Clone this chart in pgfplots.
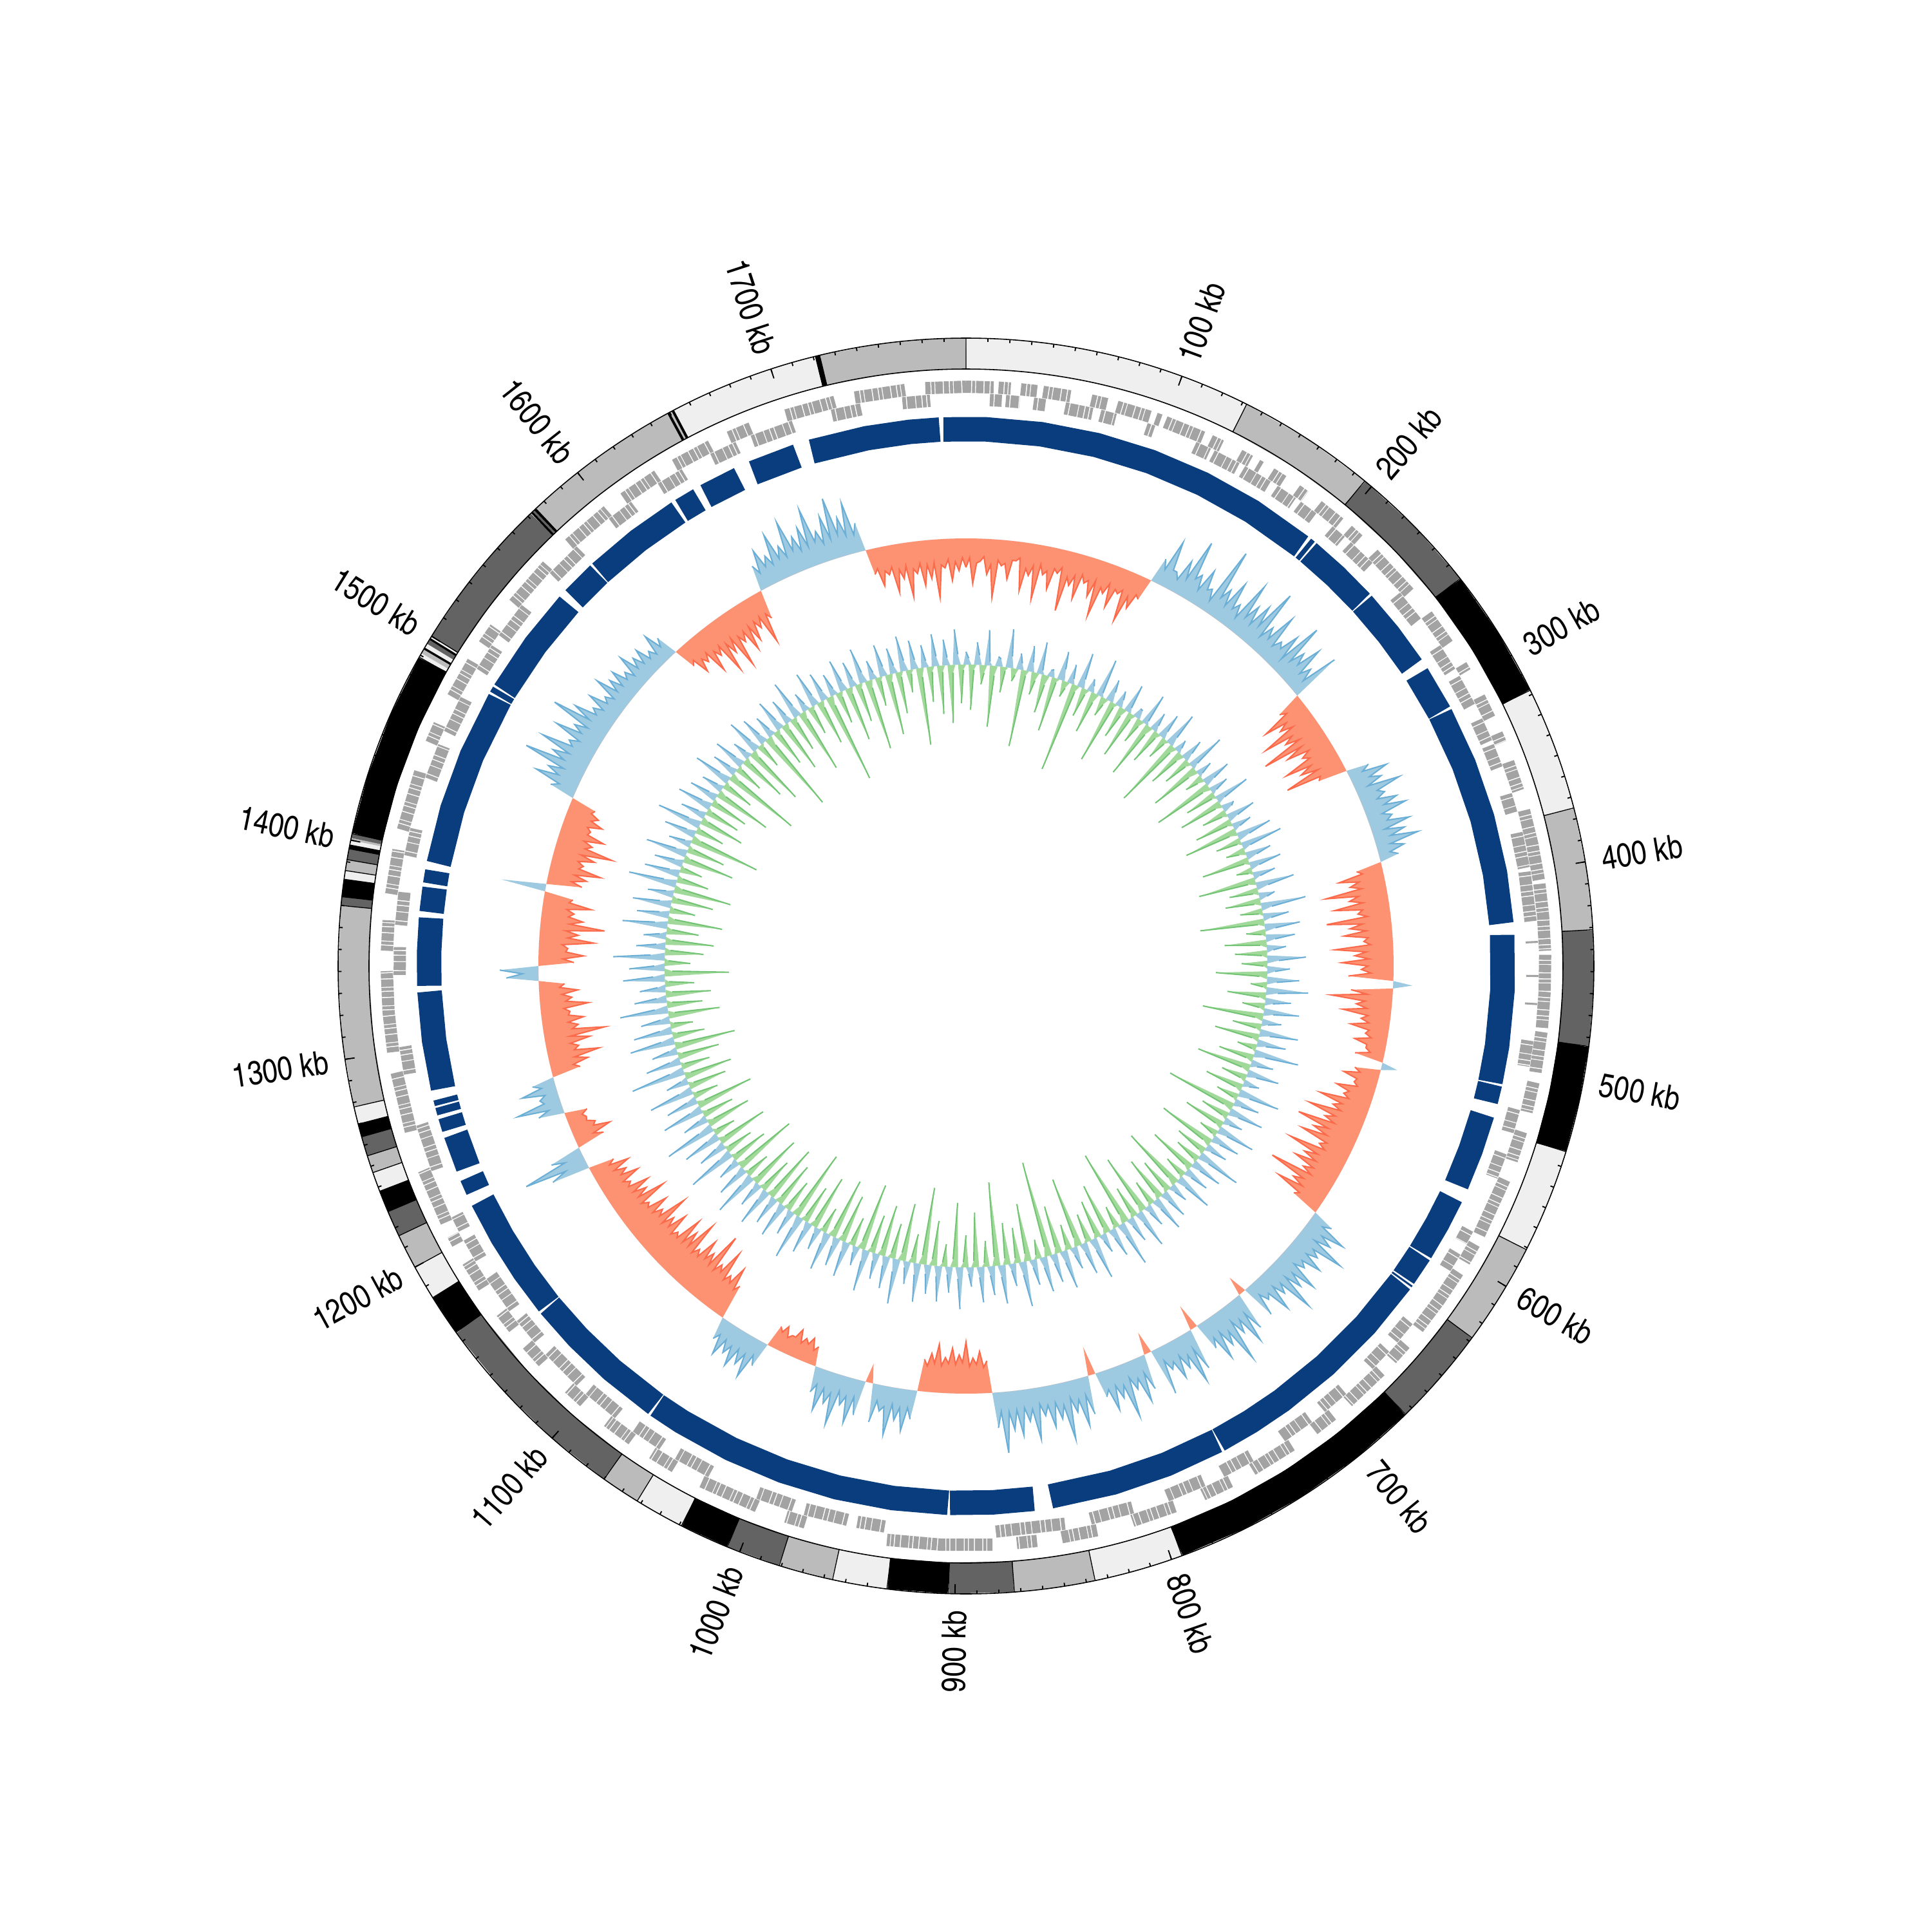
\documentclass[border=0pt]{standalone}
\usepackage{pgfplots}
\pgfplotsset{compat=1.18}
\usepackage{pgfplotstable}
\usepgfplotslibrary{polar,fillbetween}
\usepackage{fontspec}
\newfontfamily\labfont{texgyreheroscn-regular.otf}
\definecolor{ideoW}{HTML}{EFEFEF}
\definecolor{ideoL}{HTML}{BBBBBB}
\definecolor{ideoD}{HTML}{636363}
\definecolor{ideoK}{HTML}{000000}
\definecolor{tile}{HTML}{A3A3A3}
\definecolor{dblue}{HTML}{0A3D7D}
\definecolor{bfill}{HTML}{9ECAE1}
\definecolor{bline}{HTML}{6BAED6}
\definecolor{rfill}{HTML}{FC9272}
\definecolor{rline}{HTML}{FB6A4A}
\definecolor{gfill}{HTML}{A1D99B}
\definecolor{gline}{HTML}{74C476}
\tikzset{lab/.style={font=\labfont\fontsize{9.8}{11}\selectfont, inner sep=0pt}}

% ideogram segments (kb), one table per shade
\pgfplotstableread[row sep=\\]{p\\ 0\\30\\60\\90\\120\\132\\nan\\318\\345\\375\\nan\\533\\557\\581\\nan\\795\\815\\836\\nan\\931\\956\\nan\\1029\\1052\\nan\\1184\\1200\\nan\\1238\\1247\\nan\\1270\\1278\\nan\\1382\\1386\\nan\\1398\\1400\\nan\\1489\\1491\\nan\\1494\\1496\\nan\\1499\\1500\\nan\\1652\\1680\\1700\\1721\\}\ideoWt
\pgfplotstableread[row sep=\\]{p\\ 132\\164\\196\\nan\\375\\403\\431\\nan\\581\\605\\628\\nan\\836\\855\\873\\nan\\956\\981\\nan\\1052\\1070\\nan\\1200\\1216\\nan\\1247\\1255\\nan\\1278\\1308\\1339\\1370\\nan\\1386\\1391\\nan\\1400\\1401\\nan\\1491\\1493\\nan\\1575\\1600\\1625\\1649\\nan\\1650\\1651\\nan\\1723\\1750\\1775\\1790\\}\ideoLt
\pgfplotstableread[row sep=\\]{p\\ 196\\227\\258\\nan\\431\\458\\484\\nan\\628\\651\\674\\nan\\873\\903\\nan\\981\\1006\\nan\\1070\\1100\\1130\\1165\\nan\\1216\\1228\\nan\\1255\\1264\\nan\\1370\\1374\\nan\\1391\\1396\\nan\\1401\\1403\\nan\\1496\\1498\\nan\\1500\\1525\\1550\\1572\\nan\\1573\\1574\\}\ideoDt
\pgfplotstableread[row sep=\\]{p\\ 258\\288\\318\\nan\\484\\509\\533\\nan\\674\\704\\734\\764\\795\\nan\\903\\931\\nan\\1006\\1029\\nan\\1165\\1184\\nan\\1228\\1238\\nan\\1264\\1270\\nan\\1374\\1382\\nan\\1396\\1398\\nan\\1403\\1430\\1460\\1489\\nan\\1493\\1494\\nan\\1498\\1499\\nan\\1572\\1573\\nan\\1574\\1575\\nan\\1649\\1650\\nan\\1651\\1652\\nan\\1721\\1723\\}\ideoKt
% ideogram band borders
\pgfplotstableread[row sep=\\]{p r\\ 0 927\\0 975\\nan nan\\132 927\\132 975\\nan nan\\196 927\\196 975\\nan nan\\258 927\\258 975\\nan nan\\318 927\\318 975\\nan nan\\375 927\\375 975\\nan nan\\431 927\\431 975\\nan nan\\484 927\\484 975\\nan nan\\533 927\\533 975\\nan nan\\581 927\\581 975\\nan nan\\628 927\\628 975\\nan nan\\674 927\\674 975\\nan nan\\795 927\\795 975\\nan nan\\836 927\\836 975\\nan nan\\873 927\\873 975\\nan nan\\903 927\\903 975\\nan nan\\931 927\\931 975\\nan nan\\956 927\\956 975\\nan nan\\981 927\\981 975\\nan nan\\1006 927\\1006 975\\nan nan\\1029 927\\1029 975\\nan nan\\1052 927\\1052 975\\nan nan\\1070 927\\1070 975\\nan nan\\1165 927\\1165 975\\nan nan\\1184 927\\1184 975\\nan nan\\1200 927\\1200 975\\nan nan\\1216 927\\1216 975\\nan nan\\1228 927\\1228 975\\nan nan\\1238 927\\1238 975\\nan nan\\1247 927\\1247 975\\nan nan\\1255 927\\1255 975\\nan nan\\1264 927\\1264 975\\nan nan\\1270 927\\1270 975\\nan nan\\1278 927\\1278 975\\nan nan\\1370 927\\1370 975\\nan nan\\1374 927\\1374 975\\nan nan\\1382 927\\1382 975\\nan nan\\1386 927\\1386 975\\nan nan\\1391 927\\1391 975\\nan nan\\1396 927\\1396 975\\nan nan\\1403 927\\1403 975\\nan nan\\1489 927\\1489 975\\nan nan\\1500 927\\1500 975\\nan nan\\1575 927\\1575 975\\nan nan\\1649 927\\1649 975\\nan nan\\1652 927\\1652 975\\nan nan\\1721 927\\1721 975\\nan nan\\1723 927\\1723 975\\}\ideoB
% gene tiles, outer (forward) and inner (reverse) lane
\pgfplotstableread[row sep=\\]{p\\ 0\\14\\nan\\16\\22\\nan\\27\\35\\nan\\38\\52\\nan\\62\\70\\nan\\75\\92\\nan\\95\\98\\nan\\100\\120\\nan\\124\\130\\nan\\140\\146\\nan\\150\\152\\nan\\158\\165\\nan\\173\\178\\nan\\186\\200\\nan\\205\\212\\nan\\222\\248\\nan\\262\\280\\nan\\292\\296\\nan\\310\\322\\nan\\330\\335\\nan\\345\\360\\nan\\370\\387\\405\\nan\\407\\423\\440\\nan\\442\\460\\478\\nan\\480\\500\\nan\\505\\520\\nan\\530\\545\\nan\\555\\585\\nan\\590\\600\\nan\\606\\623\\640\\nan\\650\\660\\nan\\668\\690\\nan\\700\\712\\nan\\725\\748\\nan\\760\\775\\nan\\790\\812\\nan\\830\\848\\nan\\860\\870\\nan\\882\\907\\934\\nan\\975\\985\\nan\\1000\\1030\\nan\\1045\\1058\\nan\\1070\\1085\\nan\\1100\\1110\\nan\\1128\\1140\\nan\\1150\\1160\\nan\\1175\\1190\\nan\\1200\\1205\\nan\\1212\\1240\\nan\\1260\\1290\\nan\\1300\\1320\\1340\\nan\\1350\\1365\\nan\\1378\\1400\\nan\\1410\\1440\\nan\\1455\\1465\\nan\\1480\\1500\\nan\\1510\\1520\\nan\\1535\\1560\\nan\\1575\\1600\\nan\\1610\\1630\\nan\\1640\\1660\\nan\\1670\\1682\\nan\\1700\\1725\\nan\\1735\\1760\\nan\\1770\\1790\\}\tileO
\pgfplotstableread[row sep=\\]{p\\ 12\\18\\nan\\20\\27\\nan\\34\\40\\nan\\50\\64\\nan\\68\\76\\nan\\92\\96\\nan\\118\\126\\nan\\128\\142\\nan\\145\\160\\nan\\164\\175\\nan\\178\\188\\nan\\198\\206\\nan\\210\\225\\nan\\245\\262\\nan\\278\\292\\nan\\296\\312\\nan\\320\\332\\nan\\334\\346\\nan\\360\\370\\nan\\380\\398\\nan\\400\\425\\nan\\435\\436\\nan\\452\\453\\nan\\466\\467\\nan\\485\\498\\nan\\520\\532\\nan\\543\\556\\nan\\585\\592\\nan\\598\\608\\nan\\640\\652\\nan\\658\\670\\nan\\688\\702\\nan\\710\\727\\nan\\745\\762\\nan\\772\\792\\nan\\810\\832\\nan\\845\\880\\nan\\936\\950\\nan\\955\\977\\nan\\983\\1002\\nan\\1028\\1047\\nan\\1056\\1072\\nan\\1083\\1102\\nan\\1108\\1130\\nan\\1138\\1152\\nan\\1158\\1178\\nan\\1188\\1200\\nan\\1205\\1213\\nan\\1238\\1262\\nan\\1288\\1302\\nan\\1338\\1352\\nan\\1363\\1380\\nan\\1398\\1412\\nan\\1438\\1456\\nan\\1463\\1482\\nan\\1498\\1512\\nan\\1518\\1537\\nan\\1558\\1577\\nan\\1598\\1612\\nan\\1628\\1642\\nan\\1658\\1672\\nan\\1680\\1702\\nan\\1722\\1737\\nan\\1758\\1772\\}\tileI
% dark blue ring pieces
\pgfplotstableread[row sep=\\]{p\\ -12\\10\\40\\70\\100\\130\\160\\192\\nan\\193.5\\196\\nan\\197\\216\\235.5\\nan\\236.5\\258\\279\\nan\\284\\307.5\\nan\\308.5\\338\\368\\398\\425\\nan\\431\\460\\490\\509.5\\nan\\510.5\\520\\nan\\527\\547\\567\\nan\\574\\590\\607.5\\nan\\608.5\\623.5\\nan\\624.5\\625.5\\nan\\626.5\\656\\686\\716\\736\\755.5\\nan\\756.5\\786\\816\\850\\nan\\859\\881\\903.5\\nan\\904.5\\934\\964\\994\\1024\\1054\\1069.5\\nan\\1070.5\\1100\\1125\\1147.5\\nan\\1148.5\\1170\\1192\\1214\\nan\\1220\\1228\\nan\\1233\\1252\\nan\\1255\\1262\\nan\\1264\\1268\\nan\\1269\\1272\\nan\\1277\\1303\\1329\\nan\\1332\\1350\\1368\\nan\\1371\\1384\\nan\\1386\\1393\\nan\\1397\\1427\\1457\\1490.5\\nan\\1491.5\\1494.5\\nan\\1495.5\\1525\\1553\\nan\\1557\\1575.5\\nan\\1576.5\\1603\\1629\\nan\\1631\\1642\\nan\\1646\\1666\\nan\\1674\\1699\\nan\\1707\\1737\\1760\\1776\\}\blueRing
% outer histogram, one value every 2.5 kb (0..1790 kb), baseline radius 664
\pgfplotstableread[row sep=\\]{v\\
-45\\-30\\-70\\-38\\-35\\-28\\-55\\-40\\-90\\-32\\-40\\-36\\-60\\-30\\-30\\-25\\-75\\-40\\-50\\-34\\-85\\-30\\-45\\-38\\-65\\-32\\-38\\-28\\-95\\-40\\-52\\-35\\-70\\-30\\-42\\-36\\-60\\-33\\-88\\-40\\-48\\-30\\-66\\-35\\-40\\-32\\-80\\-38\\-55\\-30\\-35\\0\\
40\\25\\75\\30\\30\\20\\55\\28\\95\\35\\45\\22\\60\\30\\35\\18\\110\\32\\50\\25\\70\\28\\40\\20\\85\\30\\55\\26\\65\\33\\100\\22\\45\\28\\75\\24\\38\\30\\60\\20\\90\\27\\50\\32\\70\\25\\42\\22\\80\\0\\
-40\\-30\\-75\\-40\\-55\\-35\\-90\\-45\\-60\\-38\\-105\\-42\\-70\\-35\\-50\\-40\\-85\\-45\\-65\\-38\\-95\\-40\\-45\\0\\
35\\22\\60\\28\\45\\20\\70\\30\\40\\25\\55\\32\\65\\24\\38\\28\\62\\20\\50\\26\\68\\22\\42\\18\\30\\0\\
-40\\-32\\-70\\-40\\-55\\-38\\-95\\-45\\-60\\-40\\-85\\-42\\-50\\-36\\-100\\-45\\-65\\-40\\-75\\-38\\
-45\\-35\\-90\\-42\\-60\\-38\\-80\\-40\\-50\\-35\\-70\\0\\30\\0\\-65\\-40\\-95\\-42\\-55\\-38\\
-75\\-35\\-45\\-32\\-60\\-30\\-35\\-25\\-50\\-30\\-30\\-22\\-45\\0\\25\\0\\-40\\-30\\-55\\-32\\
-35\\-28\\-60\\-38\\-45\\-35\\-80\\-42\\-55\\-40\\-90\\-45\\-60\\-42\\-100\\-48\\-70\\-45\\-85\\-40\\
-50\\-38\\-95\\-45\\-65\\-42\\-75\\-40\\-55\\-38\\-105\\-45\\-60\\-40\\-80\\-38\\-45\\0\\
35\\22\\65\\30\\50\\25\\80\\32\\45\\28\\60\\30\\40\\24\\70\\32\\55\\28\\85\\30\\
45\\25\\65\\28\\35\\20\\55\\0\\-30\\0\\60\\28\\75\\30\\50\\25\\90\\35\\55\\28\\
70\\30\\45\\0\\-40\\0\\65\\28\\80\\32\\50\\26\\60\\30\\40\\22\\75\\0\\-35\\0\\
55\\26\\70\\30\\45\\24\\85\\32\\50\\28\\65\\30\\40\\0\\-45\\0\\60\\28\\75\\32\\
50\\26\\90\\35\\55\\28\\65\\30\\45\\26\\80\\32\\50\\28\\70\\30\\60\\32\\95\\30\\55\\0\\
-50\\-40\\-65\\-45\\-55\\-42\\-80\\-48\\-60\\-45\\-70\\-46\\-55\\-42\\-75\\-45\\-60\\-40\\-50\\0\\
45\\28\\65\\30\\50\\26\\75\\32\\40\\25\\60\\0\\-30\\0\\55\\28\\70\\30\\45\\25\\80\\32\\50\\28\\65\\26\\40\\0\\
-30\\-22\\-40\\-28\\-35\\-25\\-45\\-30\\-30\\-24\\-40\\-28\\-35\\0\\
40\\25\\65\\30\\50\\28\\60\\30\\45\\26\\55\\24\\35\\0\\
-55\\-45\\-80\\-50\\-60\\-48\\-95\\-55\\-65\\-50\\-110\\-52\\-70\\-55\\-85\\-50\\-60\\-48\\-100\\-52\\
-75\\-50\\-90\\-48\\-55\\-45\\-80\\-50\\-65\\-46\\-95\\-50\\-60\\-45\\-75\\-44\\-50\\-40\\-85\\-42\\
-60\\-40\\-70\\-38\\-45\\-35\\-65\\-38\\-50\\-32\\-60\\-30\\-40\\0\\
60\\35\\100\\30\\50\\0\\-45\\-30\\-60\\-35\\-40\\-28\\-30\\-25\\-35\\0\\40\\22\\70\\25\\30\\20\\55\\22\\35\\0\\
-45\\-35\\-60\\-40\\-80\\-42\\-50\\-38\\-70\\-40\\-95\\-45\\-55\\-40\\-65\\-42\\-45\\-36\\-75\\-40\\
-50\\-35\\-60\\-32\\-40\\0\\50\\25\\60\\0\\-55\\-38\\-70\\-42\\-45\\-36\\-85\\-44\\-60\\-40\\
-100\\-45\\-65\\-42\\-50\\-38\\-75\\-40\\-45\\0\\70\\0\\-55\\-38\\-60\\-40\\-80\\-44\\-50\\-40\\
-65\\-42\\-90\\-45\\-55\\-40\\-70\\-42\\-45\\-38\\-60\\-40\\-50\\-36\\-40\\0\\
40\\28\\70\\35\\55\\32\\100\\38\\60\\35\\85\\36\\45\\30\\75\\34\\50\\30\\95\\35\\
65\\30\\40\\25\\55\\26\\35\\22\\60\\25\\45\\24\\50\\25\\35\\20\\55\\24\\40\\22\\
45\\20\\30\\18\\50\\22\\35\\0\\
-35\\-28\\-55\\-35\\-45\\-32\\-70\\-38\\-50\\-36\\-85\\-40\\-60\\-38\\-90\\-42\\-55\\-40\\-75\\-38\\-65\\-36\\-50\\-34\\-80\\-35\\-45\\0\\
40\\25\\60\\30\\45\\28\\75\\32\\50\\30\\85\\35\\55\\30\\65\\32\\90\\35\\50\\28\\70\\32\\95\\35\\60\\30\\80\\28\\45\\0\\
-40\\-32\\-60\\-38\\-45\\-34\\-75\\-40\\-55\\-36\\-85\\-42\\-50\\-35\\-70\\-38\\-60\\-36\\-90\\-40\\-45\\-32\\-65\\-36\\-50\\-30\\-45\\}\outerdata
% inner track, one value every 2.5 kb, baseline radius 468
\pgfplotstableread[row sep=\\]{v\\
20\\10\\-70\\-8\\35\\15\\-30\\-12\\55\\6\\-95\\-15\\15\\12\\-40\\-6\\60\\18\\-20\\-10\\25\\10\\-120\\-8\\40\\15\\-35\\-12\\50\\6\\-60\\-15\\10\\12\\-85\\-6\\45\\18\\-25\\-10\\
30\\8\\-140\\-10\\55\\14\\-45\\-8\\20\\10\\-65\\-14\\60\\6\\-30\\-10\\35\\16\\-100\\-6\\25\\12\\-50\\-12\\45\\8\\-75\\-8\\15\\14\\-40\\-10\\50\\6\\-90\\-14\\30\\10\\-55\\-8\\
40\\12\\-35\\-6\\55\\15\\-110\\-10\\20\\8\\-60\\-12\\35\\14\\-45\\-8\\60\\10\\-80\\-15\\25\\6\\-30\\-10\\45\\16\\-95\\-12\\30\\8\\-50\\-6\\55\\12\\-70\\-10\\20\\14\\-40\\-8\\
45\\15\\-60\\-8\\30\\10\\-85\\-12\\55\\18\\-40\\-6\\65\\12\\-30\\-10\\40\\16\\-75\\-8\\50\\14\\-25\\-6\\35\\10\\-90\\-12\\60\\18\\-45\\-8\\25\\12\\-55\\-10\\70\\16\\-35\\-6\\
40\\12\\-100\\-10\\55\\16\\-30\\-6\\45\\14\\-65\\-10\\30\\10\\-50\\-8\\60\\18\\-40\\-6\\35\\12\\-80\\-12\\50\\15\\-25\\-6\\65\\18\\-60\\-10\\40\\12\\-35\\-8\\55\\15\\-95\\-12\\
30\\10\\-45\\-8\\60\\16\\-70\\-10\\45\\14\\-30\\-6\\70\\18\\-55\\-10\\35\\10\\-85\\-12\\50\\15\\-40\\-8\\25\\10\\-60\\-10\\65\\18\\-35\\-6\\40\\12\\-110\\-14\\55\\16\\-45\\-8\\
30\\10\\-65\\-10\\60\\16\\-30\\-6\\45\\14\\-90\\-12\\35\\10\\-50\\-8\\70\\18\\-40\\-6\\50\\15\\-75\\-10\\40\\12\\-35\\-6\\60\\16\\-100\\-14\\30\\10\\-55\\-8\\45\\14\\-70\\-10\\
55\\16\\-40\\-6\\35\\10\\-95\\-12\\60\\18\\-50\\-8\\40\\12\\-120\\-15\\70\\20\\-35\\-6\\45\\14\\-80\\-10\\30\\10\\-60\\-8\\65\\18\\-45\\-6\\50\\15\\-110\\-14\\35\\12\\-40\\-8\\
60\\18\\-75\\-10\\45\\14\\-150\\-15\\55\\16\\-30\\-6\\40\\12\\-90\\-12\\70\\20\\-55\\-8\\35\\10\\-65\\-10\\60\\18\\-130\\-14\\45\\14\\-40\\-6\\55\\16\\-85\\-10\\30\\10\\-50\\-8\\
65\\18\\-100\\-12\\40\\12\\-35\\-6\\55\\16\\-70\\-10\\45\\14\\-120\\-14\\60\\18\\-45\\-8\\35\\10\\-90\\-12\\70\\20\\-55\\-8\\50\\15\\-80\\-10\\40\\12\\-60\\-8\\65\\18\\-105\\-12\\
30\\10\\-45\\-6\\55\\16\\-75\\-10\\45\\14\\-95\\-12\\60\\18\\-40\\-6\\35\\10\\-85\\-10\\50\\15\\-60\\-8\\70\\20\\-110\\-14\\40\\12\\-50\\-8\\55\\16\\-70\\-10\\45\\14\\-90\\-12\\
60\\18\\-55\\-8\\40\\12\\-85\\-10\\70\\20\\-40\\-6\\50\\15\\-100\\-12\\35\\10\\-60\\-8\\75\\20\\-45\\-6\\45\\14\\-80\\-10\\60\\18\\-35\\-6\\80\\22\\-70\\-10\\40\\12\\-50\\-8\\
65\\18\\-90\\-12\\50\\15\\-40\\-6\\70\\20\\-60\\-8\\35\\10\\-75\\-10\\85\\22\\-45\\-6\\55\\16\\-65\\-8\\40\\12\\-95\\-12\\70\\20\\-50\\-8\\60\\18\\-35\\-6\\45\\14\\-80\\-10\\
75\\20\\-55\\-8\\50\\15\\-70\\-10\\40\\12\\-45\\-6\\65\\18\\-100\\-12\\55\\16\\-40\\-6\\80\\22\\-60\\-8\\45\\14\\-75\\-10\\35\\10\\-50\\-8\\70\\20\\-85\\-10\\50\\15\\-40\\-6\\
60\\18\\-65\\-8\\40\\12\\-90\\-12\\75\\20\\-50\\-8\\55\\16\\-35\\-6\\45\\14\\-80\\-10\\65\\18\\-60\\-8\\35\\10\\-110\\-14\\50\\15\\-45\\-6\\70\\20\\-70\\-10\\40\\12\\-55\\-8\\
55\\16\\-60\\-8\\45\\14\\-90\\-12\\35\\10\\-50\\-8\\60\\18\\-120\\-14\\40\\12\\-45\\-6\\50\\15\\-75\\-10\\30\\10\\-95\\-12\\55\\16\\-40\\-6\\45\\14\\-130\\-15\\35\\10\\-60\\-8\\
50\\15\\-80\\-10\\40\\12\\-55\\-8\\60\\18\\-100\\-12\\30\\10\\-45\\-6\\55\\16\\-70\\-10\\45\\14\\-140\\-15\\35\\10\\-50\\-8\\50\\15\\-85\\-10\\40\\12\\-60\\-8\\55\\16\\-110\\-12\\
30\\10\\-45\\-6\\50\\15\\-95\\-12\\40\\12\\-65\\-8\\55\\16\\-35\\-6\\45\\14\\-120\\-14\\35\\10\\-55\\-8\\50\\15\\-75\\-10\\40\\12\\-90\\-12\\55\\16\\-60\\-8\\20\\}\innerdata

\begin{document}
\begin{tikzpicture}
\begin{polaraxis}[
  at={(0,0)}, anchor=center,
  width=13cm, height=13cm, scale only axis,
  xmin=0, xmax=360, ymin=0, ymax=975,
  clip=false, axis on top,
  grid=none,
  ytick=\empty,
  y axis line style={draw=none},
  x axis line style={black, line width=0.3pt},
  xtick={69.888,49.777,29.665,9.553,349.441,329.330,309.218,289.106,268.995,248.883,228.771,208.660,188.548,168.436,148.325,128.213,108.101},
  xticklabels={},
  minor xtick={1.5085,3.5197,...,88.6,92.0112,94.0223,...,359.6},
  tick align=outside,
  major tick length=0.1cm, minor tick length=0.035cm,
  every tick/.style={black, line width=0.35pt},
  x filter/.expression={90-x*0.201117},
  unbounded coords=jump,
]
% ideogram
\addplot[ideoW, line width=0.32cm, line cap=butt] table[x=p, y index=0, y expr=951] {\ideoWt};
\addplot[ideoL, line width=0.32cm, line cap=butt] table[x=p, y index=0, y expr=951] {\ideoLt};
\addplot[ideoD, line width=0.32cm, line cap=butt] table[x=p, y index=0, y expr=951] {\ideoDt};
\addplot[ideoK, line width=0.32cm, line cap=butt] table[x=p, y index=0, y expr=951] {\ideoKt};
\addplot[black, line width=0.25pt] table[x=p, y=r] {\ideoB};
% gene tiles
\addplot[tile, line width=0.1267cm, line cap=butt, dash pattern=on 1.5pt off 0.3pt on 0.9pt off 0.25pt on 2.2pt off 0.3pt] table[x=p, y index=0, y expr=899.5] {\tileO};
\addplot[tile, line width=0.1267cm, line cap=butt, dash pattern=on 1.1pt off 0.3pt on 2.4pt off 0.25pt on 1.6pt off 0.3pt] table[x=p, y index=0, y expr=879.5] {\tileI};
% dark blue ring
\addplot[dblue, line width=0.2533cm, line cap=butt] table[x=p, y index=0, y expr=834] {\blueRing};
% outer histogram
\addplot[draw=none, name path=ob] table[x expr=\coordindex*2.5, y index=0, y expr=664] {\outerdata};
\addplot[draw=none, name path=op] table[x expr=\coordindex*2.5, y index=0, y expr={664+max(\thisrow{v},0)}] {\outerdata};
\addplot[draw=none, name path=on] table[x expr=\coordindex*2.5, y index=0, y expr={664+min(\thisrow{v},0)}] {\outerdata};
\addplot[fill=bfill, draw=none] fill between[of=op and ob];
\addplot[fill=rfill, draw=none] fill between[of=on and ob];
\addplot[bline, line width=0.4pt, restrict y to domain=664.5:2000] table[x expr=\coordindex*2.5, y index=0, y expr={664+\thisrow{v}}] {\outerdata};
\addplot[rline, line width=0.4pt, restrict y to domain=0:663.5] table[x expr=\coordindex*2.5, y index=0, y expr={664+\thisrow{v}}] {\outerdata};
% inner track
\addplot[draw=none, name path=ib] table[x expr=\coordindex*2.5, y index=0, y expr=468] {\innerdata};
\addplot[draw=none, name path=ip] table[x expr=\coordindex*2.5, y index=0, y expr={468+max(\thisrow{v},0)}] {\innerdata};
\addplot[draw=none, name path=in] table[x expr=\coordindex*2.5, y index=0, y expr={468+min(\thisrow{v},0)}] {\innerdata};
\addplot[fill=bfill, draw=none] fill between[of=ip and ib];
\addplot[fill=gfill, draw=none] fill between[of=in and ib];
\addplot[bline, line width=0.4pt, restrict y to domain=468.5:2000] table[x expr=\coordindex*2.5, y index=0, y expr={468+\thisrow{v}}] {\innerdata};
\addplot[gline, line width=0.4pt, restrict y to domain=0:467.5] table[x expr=\coordindex*2.5, y index=0, y expr={468+\thisrow{v}}] {\innerdata};
% tick labels
\node[lab, rotate=69.888, anchor=west] at (axis cs:69.888,1000) {100 kb};
\node[lab, rotate=49.777, anchor=west] at (axis cs:49.777,1000) {200 kb};
\node[lab, rotate=29.665, anchor=west] at (axis cs:29.665,1000) {300 kb};
\node[lab, rotate=9.553, anchor=west] at (axis cs:9.553,1000) {400 kb};
\node[lab, rotate=-10.559, anchor=west] at (axis cs:-10.559,1000) {500 kb};
\node[lab, rotate=-30.670, anchor=west] at (axis cs:-30.670,1000) {600 kb};
\node[lab, rotate=-50.782, anchor=west] at (axis cs:-50.782,1000) {700 kb};
\node[lab, rotate=-70.894, anchor=west] at (axis cs:-70.894,1000) {800 kb};
\node[lab, rotate=88.995, anchor=east] at (axis cs:-91.005,1000) {900 kb};
\node[lab, rotate=68.883, anchor=east] at (axis cs:-111.117,1000) {1000 kb};
\node[lab, rotate=48.771, anchor=east] at (axis cs:-131.229,1000) {1100 kb};
\node[lab, rotate=28.660, anchor=east] at (axis cs:-151.340,1000) {1200 kb};
\node[lab, rotate=8.548, anchor=east] at (axis cs:-171.452,1000) {1300 kb};
\node[lab, rotate=-11.564, anchor=east] at (axis cs:-191.564,1000) {1400 kb};
\node[lab, rotate=-31.675, anchor=east] at (axis cs:-211.675,1000) {1500 kb};
\node[lab, rotate=-51.787, anchor=east] at (axis cs:-231.787,1000) {1600 kb};
\node[lab, rotate=-71.899, anchor=east] at (axis cs:-251.899,1000) {1700 kb};
\end{polaraxis}
\begin{polaraxis}[
  at={(0,0)}, anchor=center,
  width=12.36cm, height=12.36cm, scale only axis,
  xmin=0, xmax=360, ymin=0, ymax=927,
  grid=none, xtick=\empty, ytick=\empty,
  y axis line style={draw=none},
  x axis line style={black, line width=0.3pt},
]
\end{polaraxis}
\path (-10cm,-10cm) rectangle (10cm,10cm);
\end{tikzpicture}
\end{document}
